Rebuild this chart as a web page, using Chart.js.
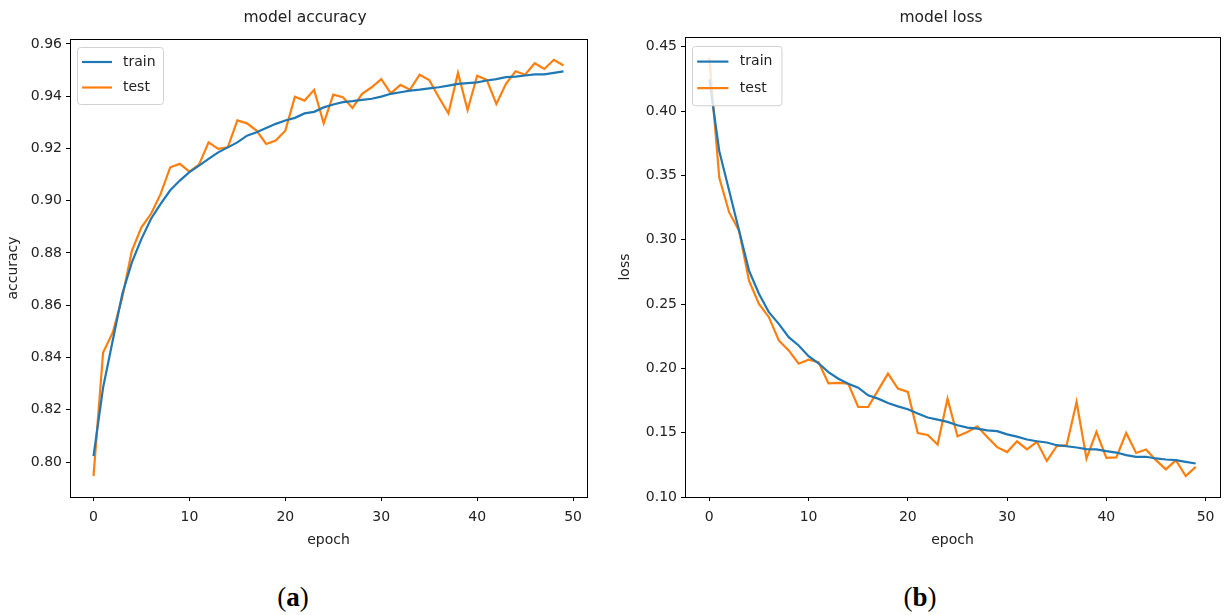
<!DOCTYPE html>
<html>
<head>
<meta charset="utf-8">
<script src="https://cdn.jsdelivr.net/npm/chart.js@4.4.0/dist/chart.umd.min.js"></script>
<style>
  body { margin: 0; background: #fff; width: 1225px; height: 615px; position: relative; overflow: hidden; font-family: 'DejaVu Sans', sans-serif; }
  .box { position: absolute; top: 0; }
  .title { position: absolute; top: 8px; font-size: 15.5px; color: #222; white-space: nowrap; transform: translateX(-50%); }
  .cap { position: absolute; top: 582px; font-family: 'Liberation Serif', serif; font-size: 27px; color: #000; transform: translateX(-50%); }
</style>
</head>
<body>
<div class="box" style="left:0"><canvas id="accChart" width="600" height="560"></canvas></div>
<div class="box" style="left:612px"><canvas id="lossChart" width="613" height="560"></canvas></div>
<div class="title" style="left:305px">model accuracy</div>
<div class="title" style="left:941px">model loss</div>
<div class="cap" style="left:293px">(<b>a</b>)</div>
<div class="cap" style="left:920px">(<b>b</b>)</div>

<script>
// ===== DATA =====
const epochs = [0,1,2,3,4,5,6,7,8,9,10,11,12,13,14,15,16,17,18,19,20,21,22,23,24,
                25,26,27,28,29,30,31,32,33,34,35,36,37,38,39,40,41,42,43,44,45,46,47,48,49];

const accTrain = [0.8023,0.8285,0.8464,0.8643,0.8764,0.8854,0.8931,0.8988,0.9040,0.9077,
                  0.9109,0.9134,0.9160,0.9185,0.9204,0.9223,0.9249,0.9262,0.9278,0.9294,
                  0.9307,0.9317,0.9334,0.9340,0.9357,0.9368,0.9377,0.9381,0.9386,0.9390,
                  0.9398,0.9409,0.9415,0.9421,0.9425,0.9430,0.9434,0.9440,0.9447,0.9450,
                  0.9453,0.9460,0.9465,0.9473,0.9475,0.9479,0.9483,0.9483,0.9489,0.9495];

const accTest = [0.7946,0.8419,0.8495,0.8630,0.8808,0.8898,0.8950,0.9026,0.9128,0.9141,
                 0.9111,0.9138,0.9223,0.9198,0.9204,0.9307,0.9296,0.9268,0.9217,0.9230,
                 0.9268,0.9398,0.9383,0.9424,0.9296,0.9406,0.9396,0.9355,0.9409,0.9434,
                 0.9465,0.9411,0.9443,0.9425,0.9482,0.9462,0.9396,0.9334,0.9489,0.9347,
                 0.9478,0.9462,0.9370,0.9447,0.9495,0.9482,0.9526,0.9504,0.9539,0.9517];

const lossTrain = [0.4246,0.3690,0.3380,0.3070,0.2760,0.2580,0.2437,0.2346,0.2243,0.2178,
                   0.2095,0.2040,0.1971,0.1920,0.1881,0.1850,0.1791,0.1765,0.1731,0.1705,
                   0.1682,0.1649,0.1618,0.1602,0.1584,0.1558,0.1540,0.1532,0.1519,0.1512,
                   0.1487,0.1470,0.1447,0.1434,0.1424,0.1403,0.1395,0.1385,0.1372,0.1370,
                   0.1357,0.1346,0.1326,0.1313,0.1313,0.1300,0.1292,0.1287,0.1274,0.1261];

const lossTest = [0.4413,0.3483,0.3212,0.3070,0.2682,0.2501,0.2398,0.2217,0.2140,0.2036,
                  0.2067,0.2049,0.1884,0.1888,0.1881,0.1700,0.1700,0.1829,0.1959,0.1843,
                  0.1817,0.1498,0.1483,0.1408,0.1765,0.1473,0.1506,0.1550,0.1467,0.1388,
                  0.1350,0.1433,0.1370,0.1429,0.1281,0.1395,0.1403,0.1739,0.1300,0.1506,
                  0.1305,0.1308,0.1498,0.1343,0.1370,0.1287,0.1215,0.1287,0.1163,0.1235];

const epochTicks = [0, 10, 20, 30, 40, 50];
const accTicks = [0.80, 0.82, 0.84, 0.86, 0.88, 0.90, 0.92, 0.94, 0.96];
const lossTicks = [0.10, 0.15, 0.20, 0.25, 0.30, 0.35, 0.40, 0.45];

const trainColor = '#1f77b4';
const testColor = '#ff7f0e';
const textColor = '#222';

// matplotlib style 5% margins
function padRange(arrays) {
    const all = arrays.flat();
    const lo = Math.min(...all), hi = Math.max(...all);
    const m = (hi - lo) * 0.05;
    return { min: lo - m, max: hi + m };
}

// ===== Plugins =====
const framePlugin = {
    id: 'frame',
    afterDatasetsDraw(chart) {
        const a = chart.chartArea, ctx = chart.ctx;
        ctx.save();
        ctx.strokeStyle = '#000';
        ctx.lineWidth = 1;
        ctx.strokeRect(Math.round(a.left) + 0.5, Math.round(a.top) + 0.5,
                       Math.round(a.right - a.left), Math.round(a.bottom - a.top));
        ctx.restore();
    }
};

function boxLegend(k, dx, dy) {
    return {
        id: 'boxLegend',
        afterDraw(chart) {
            const a = chart.chartArea, ctx = chart.ctx;
            const x = a.left + dx, y = a.top + dy;
            const w = 86 * k, h = 57 * k;
            ctx.save();
            ctx.beginPath();
            ctx.roundRect(x + 0.5, y + 0.5, w, h, 3);
            ctx.fillStyle = 'rgba(255,255,255,0.8)';
            ctx.fill();
            ctx.strokeStyle = '#d0d0d0';
            ctx.lineWidth = 1;
            ctx.stroke();
            ctx.font = '14px "DejaVu Sans"';
            ctx.textBaseline = 'middle';
            chart.data.datasets.forEach((ds, i) => {
                const ly = y + (15 + i * 25.5) * k;
                ctx.strokeStyle = ds.borderColor;
                ctx.lineWidth = 2.2;
                ctx.beginPath();
                ctx.moveTo(x + 5 * k, ly);
                ctx.lineTo(x + 35 * k, ly);
                ctx.stroke();
                ctx.fillStyle = textColor;
                ctx.fillText(ds.label, x + 46 * k, ly);
            });
            ctx.restore();
        }
    };
}

function makeChart(id, train, test, yTicks, yLabel, yWidth, pad, legend) {
    const yr = padRange([train, test]);
    const xr = padRange([epochs]);
    return new Chart(document.getElementById(id), {
        type: 'line',
        data: {
            datasets: [
                { label: 'train', data: epochs.map((e, i) => ({ x: e, y: train[i] })),
                  borderColor: trainColor, borderWidth: 2.2, pointRadius: 0, tension: 0 },
                { label: 'test', data: epochs.map((e, i) => ({ x: e, y: test[i] })),
                  borderColor: testColor, borderWidth: 2.2, pointRadius: 0, tension: 0 }
            ]
        },
        options: {
            responsive: false,
            animation: false,
            layout: { padding: pad },
            plugins: { legend: { display: false }, tooltip: { enabled: false } },
            scales: {
                x: {
                    type: 'linear', min: xr.min, max: xr.max,
                    afterBuildTicks: s => { s.ticks = epochTicks.map(v => ({ value: v })); },
                    afterFit: s => { s.height = 63; },
                    grid: { drawOnChartArea: false, tickLength: 4, color: '#000' },
                    border: { display: true, color: '#000' },
                    ticks: { color: textColor, font: { family: 'DejaVu Sans', size: 14 }, padding: 8, maxRotation: 0 },
                    title: { display: true, text: 'epoch', color: textColor,
                             font: { family: 'DejaVu Sans', size: 14 }, padding: { top: 0, bottom: 11 } }
                },
                y: {
                    min: yr.min, max: yr.max,
                    afterBuildTicks: s => { s.ticks = yTicks.map(v => ({ value: v })); },
                    afterFit: s => { s.width = yWidth; },
                    grid: { drawOnChartArea: false, tickLength: 4, color: '#000' },
                    border: { display: true, color: '#000' },
                    ticks: { color: textColor, font: { family: 'DejaVu Sans', size: 14 }, padding: 4,
                             callback: v => v.toFixed(2) },
                    title: { display: true, text: yLabel, color: textColor,
                             font: { family: 'DejaVu Sans', size: 14 }, padding: { top: 5, bottom: 0 } }
                }
            }
        },
        plugins: [framePlugin, legend]
    });
}

makeChart('accChart', accTrain, accTest, accTicks, 'accuracy', 70,
          { top: 39, right: 13, left: 0, bottom: 0 }, boxLegend(1, 7, 8));
makeChart('lossChart', lossTrain, lossTest, lossTicks, 'loss', 73,
          { top: 37, right: 5, left: 0, bottom: 0 }, boxLegend(1.04, 7, 9));
</script>
</body>
</html>
